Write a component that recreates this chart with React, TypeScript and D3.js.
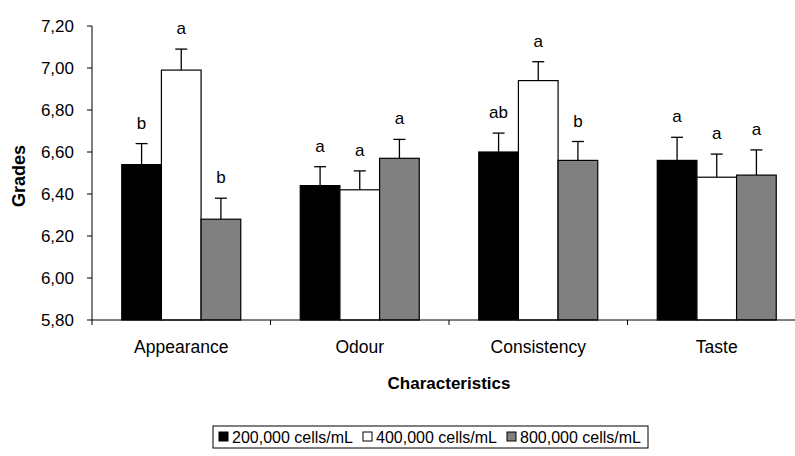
import React from "react";
import * as d3 from "d3";

const categories = ["Appearance", "Odour", "Consistency", "Taste"];
const seriesNames = ["200,000 cells/mL", "400,000 cells/mL", "800,000 cells/mL"];
const seriesColors = ["#000000", "#ffffff", "#808080"];
const grades200 = [6.54, 6.44, 6.6, 6.56];
const grades400 = [6.99, 6.42, 6.94, 6.48];
const grades800 = [6.28, 6.57, 6.56, 6.49];
const err200 = [0.1, 0.09, 0.09, 0.11];
const err400 = [0.1, 0.09, 0.09, 0.11];
const err800 = [0.1, 0.09, 0.09, 0.12];
const letters200 = ["b", "a", "ab", "a"];
const letters400 = ["a", "a", "a", "a"];
const letters800 = ["b", "a", "b", "a"];
const yTicks = [5.8, 6.0, 6.2, 6.4, 6.6, 6.8, 7.0, 7.2];

const values = [grades200, grades400, grades800];
const errors = [err200, err400, err800];
const letters = [letters200, letters400, letters800];

const W = 795;
const H = 456;
const left = 92;
const right = 806;
const top = 26;
const bottom = 320;
const font = "Arial, 'Liberation Sans', Helvetica, sans-serif";

const locale = d3.formatLocale({ decimal: ",", thousands: ".", grouping: [3], currency: ["", ""] });
const fmt = locale.format(".2f");

export default function App() {
  const y = d3.scaleLinear().domain([5.8, 7.2]).range([bottom, top]);
  const x0 = d3
    .scaleBand<string>()
    .domain(categories)
    .range([left, right])
    .paddingInner(1 / 3)
    .paddingOuter(1 / 6);
  const x1 = d3
    .scaleBand<number>()
    .domain([0, 1, 2])
    .range([0, x0.bandwidth()]);
  const step = x0.step();
  const boundaries = d3.range(categories.length + 1).map((i) => left + i * step);
  const capW = 12;

  const legendItems = seriesNames.map((n, i) => ({ n, c: seriesColors[i] }));

  return (
    <div style={{ position: "absolute", left: 0, top: 0 }}>
      <svg width={W} height={H} style={{ display: "block", background: "#fff" }} fontFamily={font}>
        {/* y axis */}
        <line x1={left} x2={left} y1={top} y2={bottom} stroke="#000" strokeWidth={1} />
        {yTicks.map((t) => (
          <g key={t}>
            <line x1={left - 5} x2={left} y1={y(t)} y2={y(t)} stroke="#000" />
            <text x={left - 18} y={y(t)} dy="0.36em" textAnchor="end" fontSize={17} fill="#000">
              {fmt(t)}
            </text>
          </g>
        ))}
        <text
          transform={`translate(25,${(top + bottom) / 2 + 3}) rotate(-90)`}
          textAnchor="middle"
          fontSize={18}
          fontWeight="bold"
          fill="#000"
        >
          Grades
        </text>

        {/* bars */}
        {categories.map((c, ci) => (
          <g key={c}>
            {values.map((vals, si) => {
              const bx = (x0(c) as number) + (x1(si) as number);
              const bw = x1.bandwidth();
              const v = vals[ci];
              const e = errors[si][ci];
              const cx = bx + bw / 2;
              return (
                <g key={si}>
                  <rect
                    x={bx}
                    y={y(v)}
                    width={bw}
                    height={bottom - y(v)}
                    fill={seriesColors[si]}
                    stroke="#000"
                    strokeWidth={1.2}
                  />
                  <line x1={cx} x2={cx} y1={y(v)} y2={y(v + e)} stroke="#000" strokeWidth={1.3} />
                  <line x1={cx - capW / 2} x2={cx + capW / 2} y1={y(v + e)} y2={y(v + e)} stroke="#000" strokeWidth={1.3} />
                  <text x={cx} y={y(v + e) - 15} textAnchor="middle" fontSize={17} fill="#000">
                    {letters[si][ci]}
                  </text>
                </g>
              );
            })}
          </g>
        ))}

        {/* x axis */}
        <line x1={left} x2={right} y1={bottom} y2={bottom} stroke="#000" strokeWidth={1} />
        {boundaries.map((b, i) => (
          <line key={i} x1={b} x2={b} y1={bottom} y2={bottom + 5} stroke="#000" />
        ))}
        {categories.map((c) => (
          <text
            key={c}
            x={(x0(c) as number) + x0.bandwidth() / 2}
            y={353}
            textAnchor="middle"
            fontSize={17.5}
            fill="#000"
          >
            {c}
          </text>
        ))}
        <text x={(left + right) / 2} y={389} textAnchor="middle" fontSize={17} fontWeight="bold" fill="#000">
          Characteristics
        </text>

        {/* legend */}
        <rect x={213} y={426} width={435} height={22} fill="#fff" stroke="#000" strokeWidth={1} />
        {legendItems.map((it, i) => {
          const lx = 219 + i * 144;
          return (
            <g key={it.n}>
              <rect x={lx} y={432} width={9} height={9} fill={it.c} stroke="#000" strokeWidth={1} />
              <text x={lx + 13} y={443} fontSize={16} fill="#000">
                {it.n}
              </text>
            </g>
          );
        })}
      </svg>
    </div>
  );
}
